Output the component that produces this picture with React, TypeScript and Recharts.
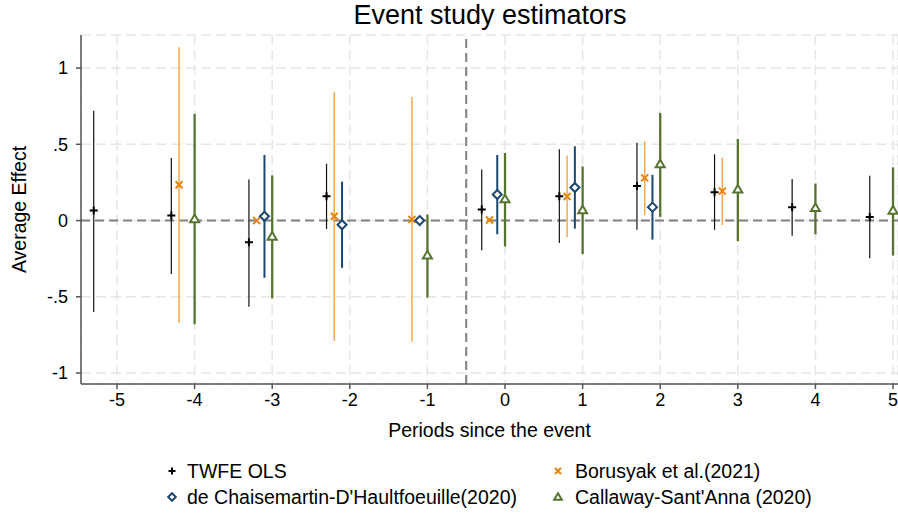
import React from 'react';
import { ComposedChart, Scatter, ErrorBar, XAxis, YAxis, CartesianGrid, ReferenceLine, Label } from 'recharts';

const periods = [-5, -4, -3, -2, -1, 0, 1, 2, 3, 4, 5];
const yTicks = [-1, -0.5, 0, 0.5, 1];

// TWFE OLS
const twfeEst = [0.066, 0.033, -0.143, 0.16, null, 0.072, 0.16, 0.226, 0.186, 0.088, 0.024];
const twfeLo = [-0.6, -0.35, -0.566, -0.055, null, -0.195, -0.147, -0.06, -0.061, -0.099, -0.248];
const twfeHi = [0.72, 0.41, 0.27, 0.373, null, 0.335, 0.467, 0.51, 0.434, 0.272, 0.294];

// Borusyak et al. (2021)
const bjsEst = [null, 0.235, 0.0, 0.028, 0.008, 0.004, 0.158, 0.28, 0.193, null, null];
const bjsLo = [null, -0.67, null, -0.79, -0.795, null, -0.11, 0.035, -0.03, null, null];
const bjsHi = [null, 1.136, null, 0.845, 0.81, null, 0.427, 0.52, 0.414, null, null];

// de Chaisemartin-D'Haultfoeuille (2020)
const dcdhEst = [null, null, 0.028, -0.028, 0.0, 0.171, 0.217, 0.088, null, null, null];
const dcdhLo = [null, null, -0.375, -0.31, null, -0.09, -0.053, -0.125, null, null, null];
const dcdhHi = [null, null, 0.43, 0.255, null, 0.43, 0.487, 0.3, null, null, null];

// Callaway-Sant'Anna (2020)
const csEst = [null, 0.01, -0.105, null, -0.228, 0.14, 0.068, 0.37, 0.204, 0.083, 0.066];
const csLo = [null, -0.68, -0.51, null, -0.505, -0.17, -0.22, 0.024, -0.136, -0.09, -0.23];
const csHi = [null, 0.7, 0.296, null, 0.04, 0.443, 0.355, 0.706, 0.535, 0.243, 0.349];

const FONT = '"Liberation Sans", Arial, sans-serif';
const ORANGE = '#e8830c';
const ORANGE_CI = '#f5aa4e';
const NAVY = '#1a476f';
const GREEN = '#55752f';

type Maybe = number | null;

const buildSeries = (offset: number, est: Maybe[], lo: Maybe[], hi: Maybe[]) =>
  periods.flatMap((p, i) => {
    const e = est[i];
    if (e == null) return [];
    const l = lo[i];
    const h = hi[i];
    return [{ x: p + offset, y: e, err: l == null || h == null ? [0, 0] : [e - l, h - e] }];
  });

const twfeData = buildSeries(-0.3, twfeEst, twfeLo, twfeHi);
const bjsData = buildSeries(-0.2, bjsEst, bjsLo, bjsHi);
const dcdhData = buildSeries(-0.1, dcdhEst, dcdhLo, dcdhHi);
const csData = buildSeries(0, csEst, csLo, csHi);

const PlusMark = ({ cx, cy, s = 4 }: any) => (
  <path d={`M${cx - s},${cy}H${cx + s}M${cx},${cy - s}V${cy + s}`} stroke="#000" strokeWidth={2} fill="none" />
);

const CrossMark = ({ cx, cy, s = 3.5 }: any) => (
  <path d={`M${cx - s},${cy - s}L${cx + s},${cy + s}M${cx - s},${cy + s}L${cx + s},${cy - s}`} stroke={ORANGE} strokeWidth={2} fill="none" />
);

const DiamondMark = ({ cx, cy, s = 4.5 }: any) => (
  <path d={`M${cx},${cy - s}L${cx + s},${cy}L${cx},${cy + s}L${cx - s},${cy}Z`} stroke={NAVY} strokeWidth={2} fill="#fff" />
);

const TriangleMark = ({ cx, cy, s = 4.5 }: any) => (
  <path d={`M${cx},${cy - s}L${cx + s},${cy + s * 0.7}L${cx - s},${cy + s * 0.7}Z`} stroke={GREEN} strokeWidth={2} fill="#fff" />
);

const fmtY = (v: number) => {
  if (v === 0) return '0';
  const s = String(v);
  return s.replace('0.', '.');
};

const legendItems = [
  { label: 'TWFE OLS', Mark: PlusMark, col: 0, row: 0, s: 3.5 },
  { label: 'Borusyak et al.(2021)', Mark: CrossMark, col: 1, row: 0, s: 3 },
  { label: "de Chaisemartin-D'Haultfoeuille(2020)", Mark: DiamondMark, col: 0, row: 1, s: 3.8 },
  { label: "Callaway-Sant'Anna (2020)", Mark: TriangleMark, col: 1, row: 1, s: 3.8 },
];

export default function App() {
  const axisStyle = { stroke: '#555', strokeWidth: 1.5 };
  return (
    <div style={{ position: 'absolute', left: 0, top: 0, width: 898, height: 514, background: '#fff', fontFamily: FONT }}>
      <ComposedChart width={898} height={514} margin={{ top: 35, right: 0, bottom: 70, left: 0 }}>
        <CartesianGrid stroke="#e6e6e6" strokeDasharray="10 5" strokeWidth={1.5} />
        <XAxis
          type="number"
          dataKey="x"
          domain={[-5.464, 5.064]}
          ticks={periods}
          allowDataOverflow
          height={60}
          tickSize={5}
          tickMargin={4}
          axisLine={axisStyle}
          tickLine={axisStyle}
          tick={{ fill: '#000', fontSize: 18 }}
        >
          <Label
            content={({ viewBox }: any) => (
              <text x={viewBox.x + viewBox.width / 2} y={viewBox.y + 53} textAnchor="middle" fontSize={19.5} fill="#000">
                Periods since the event
              </text>
            )}
          />
        </XAxis>
        <YAxis
          type="number"
          dataKey="y"
          domain={[-1.072, 1.217]}
          ticks={yTicks}
          allowDataOverflow
          width={81}
          tickSize={5}
          tickMargin={8}
          tickFormatter={fmtY}
          axisLine={axisStyle}
          tickLine={axisStyle}
          tick={{ fill: '#000', fontSize: 18 }}
        >
          <Label
            content={({ viewBox }: any) => {
              const cx = 26;
              const cy = viewBox.y + viewBox.height / 2;
              return (
                <text x={cx} y={cy} transform={`rotate(-90 ${cx} ${cy})`} textAnchor="middle" fontSize={19.5} fill="#000">
                  Average Effect
                </text>
              );
            }}
          />
        </YAxis>
        <ReferenceLine y={0} stroke="#808080" strokeDasharray="9 5" strokeWidth={2} />
        <ReferenceLine x={-0.5} stroke="#808080" strokeDasharray="9 5" strokeWidth={2} />
        <Scatter data={twfeData} isAnimationActive={false} shape={(p: any) => <PlusMark cx={p.cx} cy={p.cy} />}>
          <ErrorBar dataKey="err" direction="y" width={0} stroke="#111" strokeWidth={1.2} isAnimationActive={false} />
        </Scatter>
        <Scatter data={bjsData} isAnimationActive={false} shape={(p: any) => <CrossMark cx={p.cx} cy={p.cy} />}>
          <ErrorBar dataKey="err" direction="y" width={0} stroke={ORANGE_CI} strokeWidth={1.5} isAnimationActive={false} />
        </Scatter>
        <Scatter data={dcdhData} isAnimationActive={false} shape={(p: any) => <DiamondMark cx={p.cx} cy={p.cy} />}>
          <ErrorBar dataKey="err" direction="y" width={0} stroke={NAVY} strokeWidth={2} isAnimationActive={false} />
        </Scatter>
        <Scatter data={csData} isAnimationActive={false} shape={(p: any) => <TriangleMark cx={p.cx} cy={p.cy} />}>
          <ErrorBar dataKey="err" direction="y" width={0} stroke={GREEN} strokeWidth={2.3} isAnimationActive={false} />
        </Scatter>
      </ComposedChart>
      <svg width={898} height={514} style={{ position: 'absolute', left: 0, top: 0, pointerEvents: 'none' }}>
        <text x={490} y={24} textAnchor="middle" fontSize={27} fill="#000">
          Event study estimators
        </text>
        {legendItems.map(({ label, Mark, col, row, s }) => {
          const mx = col === 0 ? 172 : 558;
          const my = row === 0 ? 471 : 497;
          return (
            <g key={label}>
              <Mark cx={mx} cy={my} s={s} />
              <text x={mx + (col === 0 ? 15 : 17)} y={my + 7} fontSize={19.5} fill="#000">
                {label}
              </text>
            </g>
          );
        })}
      </svg>
    </div>
  );
}
